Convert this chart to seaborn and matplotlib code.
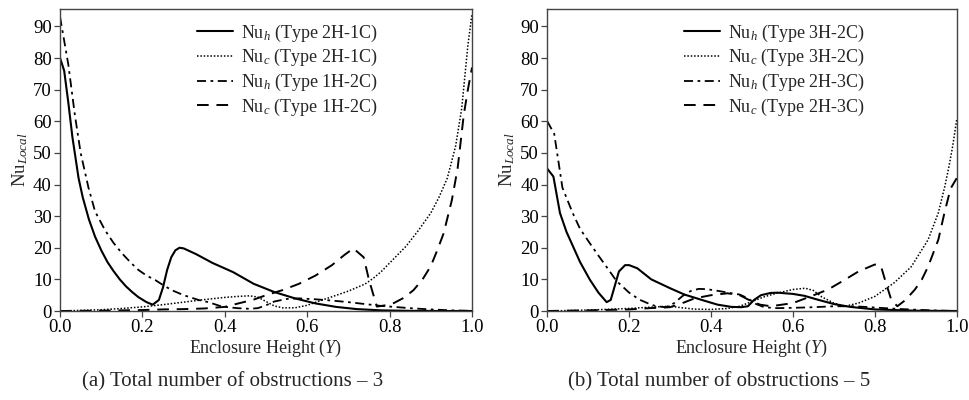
import numpy as np
import pandas as pd
import seaborn as sns
import matplotlib
matplotlib.use("Agg")
import matplotlib.pyplot as plt

# %% data
# (a) total number of obstructions - 3
a_h_2h1c_y = [0, 0.01, 0.02, 0.03, 0.045, 0.055, 0.07, 0.085, 0.1, 0.115, 0.13, 0.145,
              0.16, 0.175, 0.19, 0.21, 0.225, 0.24, 0.25, 0.26, 0.27, 0.28, 0.29, 0.30,
              0.33, 0.37, 0.42, 0.47, 0.52, 0.57, 0.62, 0.67, 0.72, 0.78, 0.85, 0.92, 1.0]
a_h_2h1c = [80, 76, 66, 55, 42, 36, 29, 23.5, 19.2, 15.5, 12.6, 10,
            7.8, 6.0, 4.4, 2.8, 2.0, 3.5, 7.5, 13, 17, 19.2, 20, 19.8,
            18, 15.2, 12.3, 8.6, 6.0, 4.0, 2.4, 1.3, 0.6, 0.2, 0.05, 0, 0]

a_c_2h1c_y = [0, 0.05, 0.1, 0.15, 0.2, 0.25, 0.3, 0.35, 0.4, 0.43, 0.46, 0.48, 0.50,
              0.52, 0.54, 0.57, 0.6, 0.63, 0.66, 0.7, 0.74, 0.76, 0.78, 0.81, 0.84,
              0.87, 0.9, 0.92, 0.94, 0.96, 0.975, 0.99, 1.0]
a_c_2h1c = [0, 0.2, 0.4, 0.8, 1.3, 2.0, 2.8, 3.6, 4.3, 4.6, 4.8, 4.4, 3.0,
            1.6, 1.0, 1.0, 1.8, 3.2, 4.5, 6.3, 8.5, 10.3, 12.5, 16.5, 20.5,
            25.5, 31, 36, 42, 52, 64, 84, 94]

a_h_1h2c_y = [0, 0.004, 0.02, 0.036, 0.05, 0.069, 0.085, 0.109, 0.13, 0.15, 0.17, 0.19,
              0.21, 0.231, 0.25, 0.271, 0.3, 0.336, 0.36, 0.393, 0.43, 0.46, 0.48, 0.50,
              0.52, 0.55, 0.58, 0.62, 0.66, 0.7, 0.74, 0.78, 0.82, 0.86, 0.9, 0.95, 1.0]
a_h_1h2c = [93, 90, 78, 62, 50, 39, 31.5, 25.6, 21.5, 18.3, 15.5, 13,
            11.2, 9.8, 8.2, 6.6, 5, 3.5, 2.8, 1.4, 0.9, 0.7, 0.9, 1.8,
            3, 3.8, 4.0, 3.7, 3.3, 2.8, 2.2, 1.6, 1.2, 0.8, 0.5, 0.2, 0.05]

a_c_1h2c_y = [0, 0.1, 0.2, 0.25, 0.3, 0.35, 0.4, 0.43, 0.47, 0.5, 0.54, 0.58, 0.62,
              0.66, 0.69, 0.712, 0.737, 0.75, 0.769, 0.79, 0.81, 0.835, 0.858, 0.88,
              0.9, 0.915, 0.931, 0.951, 0.965, 0.98, 0.99, 1.0]
a_c_1h2c = [0, 0.1, 0.3, 0.5, 0.6, 0.8, 1.3, 2.3, 3.6, 5.0, 6.6, 8.6, 11.2,
            14.5, 17.7, 19.8, 17, 9.8, 1.4, 1.8, 2.5, 4.2, 6.6, 10,
            14.2, 19, 24.5, 35, 45, 62, 70, 77]

# (b) total number of obstructions - 5
b_h_3h2c_y = [0, 0.015, 0.031, 0.047, 0.063, 0.08, 0.104, 0.125, 0.145, 0.155, 0.165,
              0.175, 0.19, 0.2, 0.22, 0.254, 0.3, 0.335, 0.38, 0.416, 0.45, 0.474, 0.49,
              0.505, 0.522, 0.545, 0.562, 0.6, 0.628, 0.66, 0.7, 0.74, 0.8, 0.9, 1.0]
b_h_3h2c = [45, 42.5, 31, 25, 20.4, 15.5, 9.9, 5.8, 2.8, 3.5, 8,
            12.5, 14.5, 14.5, 13.5, 10, 7.2, 5.2, 3.4, 2, 1.3, 1.2, 1.5,
            3.5, 5.0, 5.7, 5.8, 5.4, 4.8, 3.6, 2.2, 1.3, 0.5, 0.1, 0]

b_c_3h2c_y = [0, 0.1, 0.2, 0.25, 0.3, 0.33, 0.36, 0.4, 0.44, 0.47, 0.5, 0.53, 0.56,
              0.6, 0.63, 0.65, 0.67, 0.7, 0.727, 0.76, 0.8, 0.848, 0.889, 0.93, 0.955,
              0.971, 0.98, 0.99, 1.0]
b_c_3h2c = [0, 0.3, 0.8, 1.2, 1.5, 1.0, 0.6, 0.5, 0.8, 1.5, 3.0, 4.5, 5.6,
            6.8, 7.2, 6.5, 4.5, 2.5, 1.5, 2.5, 4.6, 9, 14, 22.5, 31,
            39.4, 45, 52, 60.5]

b_h_2h3c_y = [0, 0.017, 0.037, 0.062, 0.08, 0.103, 0.125, 0.144, 0.169, 0.2, 0.225,
              0.25, 0.266, 0.29, 0.31, 0.33, 0.35, 0.37, 0.39, 0.42, 0.45, 0.47, 0.49,
              0.51, 0.53, 0.56, 0.6, 0.65, 0.7, 0.75, 0.8, 0.85, 0.9, 0.95, 1.0]
b_h_2h3c = [60, 56, 39, 31, 26, 21.6, 17.5, 14.1, 9.5, 5.8, 3.6,
            2.2, 1.5, 1.2, 2.5, 4.7, 6.3, 7.0, 6.9, 6.3, 5.6, 5.2, 4.0,
            2.2, 1.2, 0.9, 1.0, 1.2, 1.5, 1.5, 1.1, 0.7, 0.4, 0.15, 0]

b_c_2h3c_y = [0, 0.1, 0.2, 0.25, 0.3, 0.33, 0.36, 0.4, 0.44, 0.47, 0.5, 0.52, 0.546,
              0.6, 0.645, 0.686, 0.727, 0.76, 0.8, 0.815, 0.825, 0.84, 0.855, 0.875,
              0.898, 0.915, 0.93, 0.955, 0.97, 0.985, 1.0]
b_c_2h3c = [0, 0.2, 0.5, 0.9, 1.2, 2.5, 4.0, 5.0, 5.6, 5.0, 3.0, 2.0, 1.5,
            2.5, 4.7, 6.8, 9.9, 12.5, 14.7, 14.2, 9.8, 3.6, 1.5, 3.5,
            6.8, 10, 14, 22.5, 31, 38.7, 42]

# %% styles
styles = {
    "h1": dict(linestyle="-", lw=1.5),
    "c1": dict(linestyle=(0, (1, 1.2)), lw=1.1),
    "h2": dict(linestyle=(0, (5, 2.5, 1.5, 2.5)), lw=1.3),
    "c2": dict(linestyle=(0, (6, 4)), lw=1.4),
}

panels = [
    {
        "series": [
            ("h1", a_h_2h1c_y, a_h_2h1c, r"Nu$_h$ (Type 2H-1C)"),
            ("c1", a_c_2h1c_y, a_c_2h1c, r"Nu$_c$ (Type 2H-1C)"),
            ("h2", a_h_1h2c_y, a_h_1h2c, r"Nu$_h$ (Type 1H-2C)"),
            ("c2", a_c_1h2c_y, a_c_1h2c, r"Nu$_c$ (Type 1H-2C)"),
        ],
        "rect": [0.0619, 0.2225, 0.4247, 0.755],
        "caption": "(a) Total number of obstructions \u2013 3",
    },
    {
        "series": [
            ("h1", b_h_3h2c_y, b_h_3h2c, r"Nu$_h$ (Type 3H-2C)"),
            ("c1", b_c_3h2c_y, b_c_3h2c, r"Nu$_c$ (Type 3H-2C)"),
            ("h2", b_h_2h3c_y, b_h_2h3c, r"Nu$_h$ (Type 2H-3C)"),
            ("c2", b_c_2h3c_y, b_c_2h3c, r"Nu$_c$ (Type 2H-3C)"),
        ],
        "rect": [0.5642, 0.2225, 0.4221, 0.755],
        "caption": "(b) Total number of obstructions \u2013 5",
    },
]

# %% plot
sns.set_style("ticks")
plt.rcParams.update({
    "font.family": "serif",
    "font.serif": ["Liberation Serif", "DejaVu Serif"],
    "mathtext.fontset": "custom",
    "mathtext.rm": "Liberation Serif",
    "mathtext.it": "Liberation Serif:italic",
    "font.size": 12,
    "axes.edgecolor": "#444444",
    "axes.linewidth": 1.0,
    "xtick.color": "#444444",
    "ytick.color": "#444444",
    "xtick.labelcolor": "black",
    "ytick.labelcolor": "black",
})

fig = plt.figure(figsize=(9.7, 4.0), dpi=100)

for panel in panels:
    ax = fig.add_axes(panel["rect"])
    for key, yy, vv, label in panel["series"]:
        df = pd.DataFrame({"Y": yy, "Nu": vv})
        sns.lineplot(data=df, x="Y", y="Nu", ax=ax, color="black", errorbar=None,
                     label=label, **styles[key])
    ax.set_xlim(0, 1)
    ax.set_ylim(0, 95.5)
    ax.set_xticks([0, 0.2, 0.4, 0.6, 0.8, 1.0])
    ax.set_yticks(range(0, 100, 10))
    ax.tick_params(labelsize=13.5, length=4, width=0.9, pad=2)
    ax.set_xlabel("Enclosure Height ($Y$)", fontsize=13, labelpad=1)
    ax.set_ylabel("Nu$_{Local}$", fontsize=13.5, labelpad=2)
    ax.legend(loc="upper left", bbox_to_anchor=(0.3, 1.0), frameon=False,
              fontsize=13, handlelength=2.0, handletextpad=0.45,
              labelspacing=0.2, borderaxespad=0.35)
    x0, _, w, _ = panel["rect"]
    fig.text(x0 + w * 0.42, 0.045, panel["caption"], ha="center", va="center",
             fontsize=15)

fig.savefig("out.png", dpi=100)
